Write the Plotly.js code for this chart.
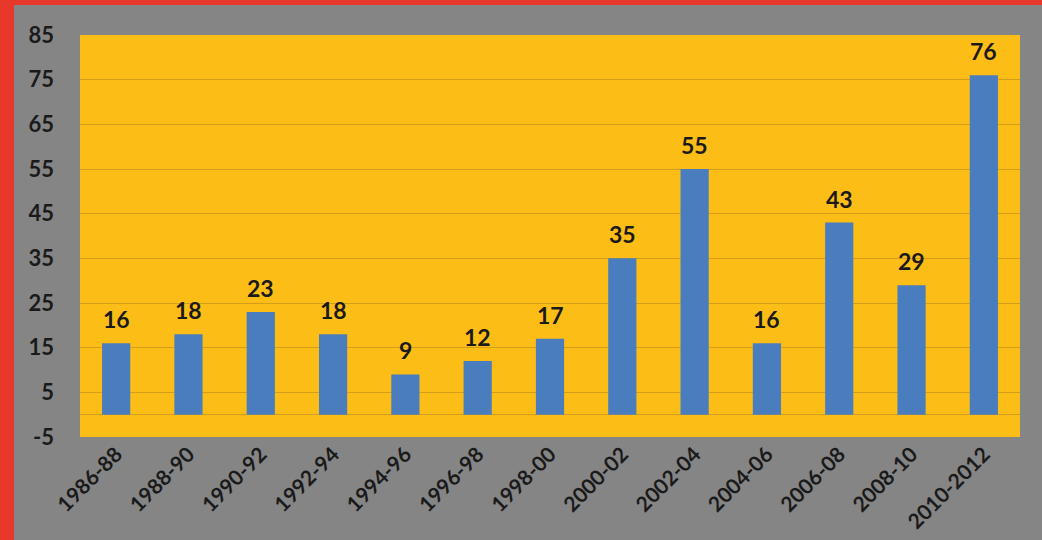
<!DOCTYPE html>
<html>
<head>
<meta charset="utf-8">
<script src="https://cdn.plot.ly/plotly-3.0.1.min.js"></script>
<style>
  html, body { margin: 0; padding: 0; background: #858585; }
  #wrap { width: 1028px; height: 535px; border-left: 14px solid #e8382b; border-top: 5px solid #e8382b; }
  #chart { width: 1028px; height: 535px; }
</style>
</head>
<body>
<div id="wrap"><div id="chart"></div></div>
<script>
const categories = ["1986-88","1988-90","1990-92","1992-94","1994-96","1996-98","1998-00","2000-02","2002-04","2004-06","2006-08","2008-10","2010-2012"];
const values = [16, 18, 23, 18, 9, 12, 17, 35, 55, 16, 43, 29, 76];
const yTicks = [-5, 5, 15, 25, 35, 45, 55, 65, 75, 85];

const FONT = "Lato, 'DejaVu Sans', sans-serif";

const trace = {
  type: "bar",
  x: categories,
  y: values,
  marker: { color: "#4a7dbd" },
  hoverinfo: "x+y"
};

const annotations = categories.map((c, i) => ({
  x: c, y: values[i], xref: "x", yref: "y",
  text: "<b>" + values[i] + "</b>",
  showarrow: false, yanchor: "bottom", yshift: 8,
  font: { family: FONT, size: 23, color: "#1a1a1a" }
}));

const layout = {
  width: 1028, height: 535,
  margin: { l: 66, r: 22, t: 30, b: 103 },
  paper_bgcolor: "#858585",
  plot_bgcolor: "#fdbd17",
  bargap: 0.61,
  showlegend: false,
  font: { family: FONT, color: "#1a1a1a" },
  xaxis: {
    type: "category",
    tickangle: -45,
    tickfont: { family: FONT, size: 21, color: "#1a1a1a", weight: "bold" },
    showgrid: false, showline: false, ticks: "", zeroline: false
  },
  yaxis: {
    range: [-5, 85],
    tickvals: yTicks,
    ticktext: yTicks.map(String),
    tickfont: { family: FONT, size: 22, color: "#1a1a1a", weight: "bold" },
    showgrid: true, gridcolor: "#d49e1c", gridwidth: 1,
    zeroline: true, zerolinecolor: "#d49e1c", zerolinewidth: 1,
    ticks: "", ticklabelstandoff: 25, showline: false
  },
  annotations: annotations
};

Plotly.newPlot("chart", [trace], layout, { displayModeBar: false, staticPlot: true });
</script>
</body>
</html>
